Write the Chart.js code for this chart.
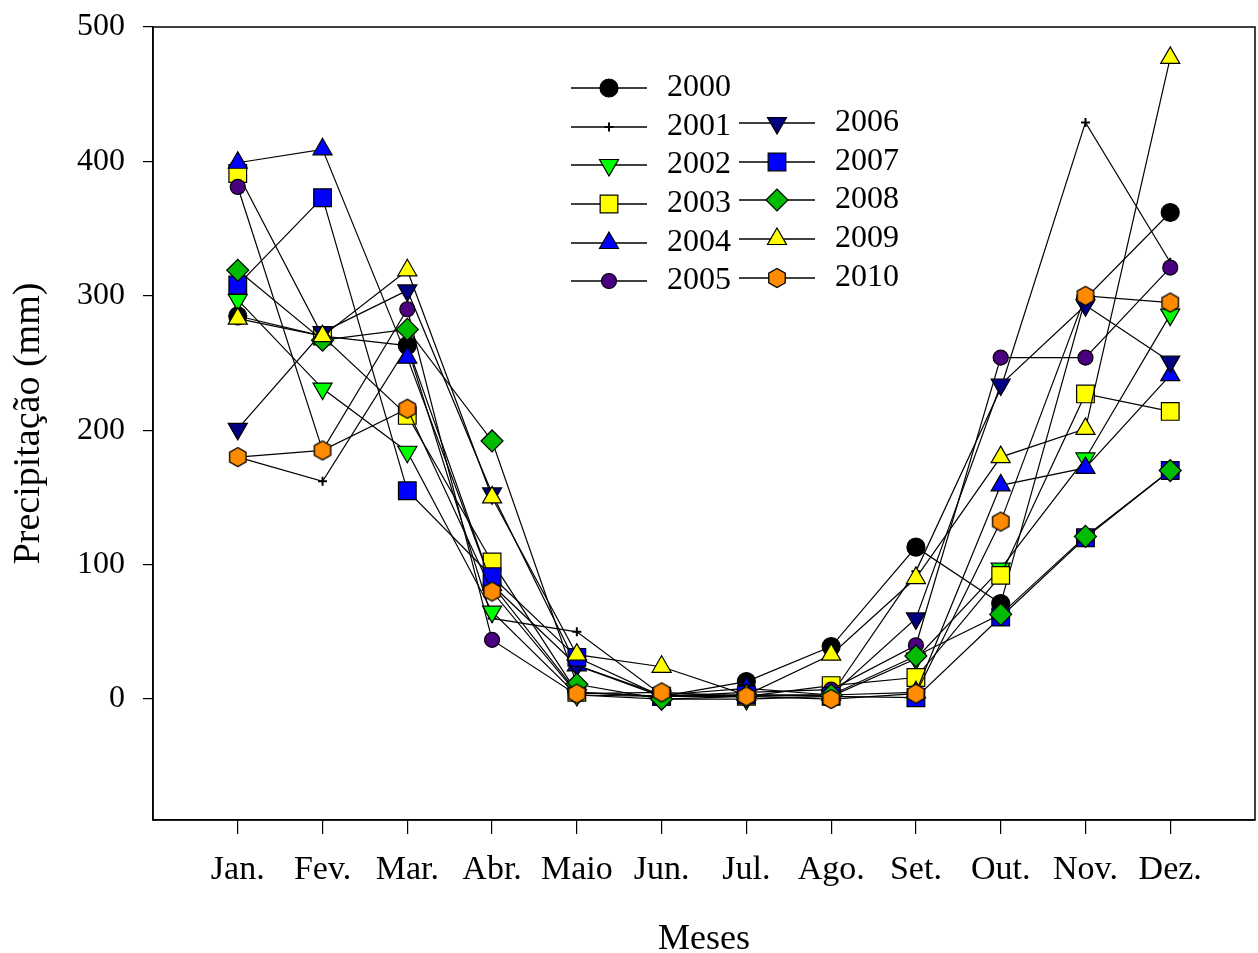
<!DOCTYPE html>
<html>
<head>
<meta charset="utf-8">
<script src="https://cdn.jsdelivr.net/npm/chart.js"></script>
<style>
  html, body { margin: 0; padding: 0; background: #fff; }
</style>
</head>
<body>
<canvas id="chart" width="1258" height="953"></canvas>
<script>
const months = ['Jan.', 'Fev.', 'Mar.', 'Abr.', 'Maio', 'Jun.', 'Jul.', 'Ago.', 'Set.', 'Out.', 'Nov.', 'Dez.']
const yTicks = [0, 100, 200, 300, 400, 500]
const years = ['2000', '2001', '2002', '2003', '2004', '2005', '2006', '2007', '2008', '2009', '2010']

const p2000 = [285, 270, 263, 85, 5, 2, 13, 39, 113, 71, 298, 362]
const p2001 = [180, 162, 262, 60, 50, 3, 3, 3, 95, 231, 429, 325]
const p2002 = [297, 231, 184, 65, 3, 0, 0, 2, 30, 97, 179, 286]
const p2003 = [391, 270, 211, 102, 5, 2, 2, 10, 16, 92, 227, 214]
const p2004 = [399, 409, 254, 85, 25, 3, 8, 3, 5, 159, 172, 241]
const p2005 = [381, 185, 290, 44, 3, 2, 5, 7, 40, 254, 254, 321]
const p2006 = [201, 273, 304, 153, 25, 2, 3, 3, 60, 234, 293, 251]
const p2007 = [308, 373, 155, 91, 31, 2, 3, 2, 1, 61, 120, 170]
const p2008 = [319, 267, 275, 192, 11, 0, 2, 3, 32, 63, 121, 170]
const p2009 = [283, 270, 319, 150, 33, 24, 3, 33, 90, 180, 201, 477]
const p2010 = [180, 185, 216, 80, 4, 5, 2, 0, 4, 132, 300, 295]

const series = [p2000, p2001, p2002, p2003, p2004, p2005, p2006, p2007, p2008, p2009, p2010]

// orange hexagon marker (no built-in hexagon in Chart.js)
function hexagon(color) {
    const c = document.createElement('canvas')
    c.width = 22
    c.height = 22
    const g = c.getContext('2d')
    g.beginPath()
    for (let k = 0; k < 6; k++) {
        const a = Math.PI / 2 + k * Math.PI / 3
        const px = 11 + 9.5 * Math.cos(a)
        const py = 11 - 9.5 * Math.sin(a)
        if (k === 0) g.moveTo(px, py); else g.lineTo(px, py)
    }
    g.closePath()
    g.fillStyle = color
    g.fill()
    g.lineWidth = 1.3
    g.strokeStyle = '#000'
    g.stroke()
    return c
}

const markers = [
    { style: 'circle', color: '#000000', radius: 9, rotation: 0 },
    { style: 'cross', color: '#000000', radius: 4.5, rotation: 0 },
    { style: 'triangle', color: '#00ff00', radius: 11, rotation: 180 },
    { style: 'rect', color: '#ffff00', radius: 12.5, rotation: 0 },
    { style: 'triangle', color: '#0000ff', radius: 11, rotation: 0 },
    { style: 'circle', color: '#4b0082', radius: 7.5, rotation: 0 },
    { style: 'triangle', color: '#000080', radius: 11, rotation: 180 },
    { style: 'rect', color: '#0000ff', radius: 12.5, rotation: 0 },
    { style: 'rectRot', color: '#00bb00', radius: 11, rotation: 0 },
    { style: 'triangle', color: '#ffff00', radius: 11, rotation: 0 },
    { style: hexagon('#ff8c00'), color: '#ff8c00', radius: 10, rotation: 0 }
]

// legend slots: [line start x, row y]
const legendPos = [
    [571, 88], [571, 127], [571, 165], [571, 204], [571, 243], [571, 281],
    [739, 123], [739, 162], [739, 200], [739, 239], [739, 278]
]

const datasets = years.map((y, i) => ({
    label: y,
    data: series[i].map((v, j) => ({ x: j + 1, y: v })),
    borderColor: '#000',
    borderWidth: 1.2,
    tension: 0,
    fill: false,
    pointStyle: markers[i].style,
    pointRadius: markers[i].radius,
    pointRotation: markers[i].rotation,
    pointBackgroundColor: markers[i].color,
    pointBorderColor: '#000',
    pointBorderWidth: i === 1 ? 2 : 1.2,
    order: years.length - i
}))

const frame = {
    id: 'frame',
    afterDraw(chart) {
        const { ctx, chartArea: a } = chart
        ctx.save()
        ctx.strokeStyle = '#000'
        ctx.lineWidth = 1.5
        ctx.strokeRect(a.left, a.top, a.right - a.left, a.bottom - a.top)
        ctx.restore()
    }
}

const legendBox = {
    id: 'legendBox',
    afterDraw(chart) {
        const ctx = chart.ctx
        ctx.save()
        years.forEach((y, i) => {
            const [x0, yy] = legendPos[i]
            ctx.strokeStyle = '#000'
            ctx.lineWidth = 1.3
            ctx.beginPath()
            ctx.moveTo(x0, yy)
            ctx.lineTo(x0 + 76, yy)
            ctx.stroke()
            ctx.fillStyle = markers[i].color
            ctx.strokeStyle = '#000'
            ctx.lineWidth = i === 1 ? 2 : 1.2
            Chart.helpers.drawPoint(ctx, {
                pointStyle: markers[i].style,
                radius: markers[i].radius,
                rotation: markers[i].rotation,
                borderWidth: i === 1 ? 2 : 1.2
            }, x0 + 38, yy)
            ctx.fillStyle = '#000'
            ctx.font = '32px "Liberation Serif"'
            ctx.textAlign = 'left'
            ctx.textBaseline = 'middle'
            ctx.fillText(y, x0 + 96, yy)
        })
        ctx.restore()
    }
}

const ctx = document.getElementById('chart').getContext('2d')

new Chart(ctx, {
    type: 'line',
    data: { datasets: datasets },
    options: {
        responsive: false,
        animation: false,
        layout: { autoPadding: false, padding: { left: 0, top: 27, right: 3, bottom: 0 } },
        plugins: { legend: { display: false }, tooltip: { enabled: false } },
        scales: {
            x: {
                type: 'linear',
                min: 0,
                max: 13,
                afterBuildTicks: scale => { scale.ticks = months.map((m, i) => ({ value: i + 1 })) },
                afterFit: scale => {
                    scale.height = 133
                    scale.paddingLeft = 0
                    scale.paddingRight = 0
                },
                ticks: {
                    autoSkip: false,
                    maxRotation: 0,
                    padding: 16,
                    color: '#000',
                    font: { family: '"Liberation Serif"', size: 34 },
                    callback: v => months[v - 1]
                },
                grid: { drawOnChartArea: false, drawTicks: true, tickLength: 14, color: '#000', lineWidth: 1.2 },
                border: { display: true, color: '#000', width: 1.5 },
                title: {
                    display: true,
                    text: 'Meses',
                    color: '#000',
                    padding: 0,
                    font: { family: '"Liberation Serif"', size: 36, lineHeight: 0.75 }
                }
            },
            y: {
                min: -90,
                max: 500,
                afterBuildTicks: scale => { scale.ticks = yTicks.map(v => ({ value: v })) },
                afterFit: scale => {
                    scale.width = 153
                    scale.paddingTop = 0
                    scale.paddingBottom = 0
                },
                ticks: {
                    padding: 18,
                    color: '#000',
                    font: { family: '"Liberation Serif"', size: 32 }
                },
                grid: { drawOnChartArea: false, drawTicks: true, tickLength: 10, color: '#000', lineWidth: 1.2 },
                border: { display: true, color: '#000', width: 1.5 },
                title: {
                    display: true,
                    text: 'Precipitação (mm)',
                    color: '#000',
                    padding: { top: 10, bottom: 0 },
                    font: { family: '"Liberation Serif"', size: 38, lineHeight: 1 }
                }
            }
        }
    },
    plugins: [frame, legendBox]
})
</script>
</body>
</html>
